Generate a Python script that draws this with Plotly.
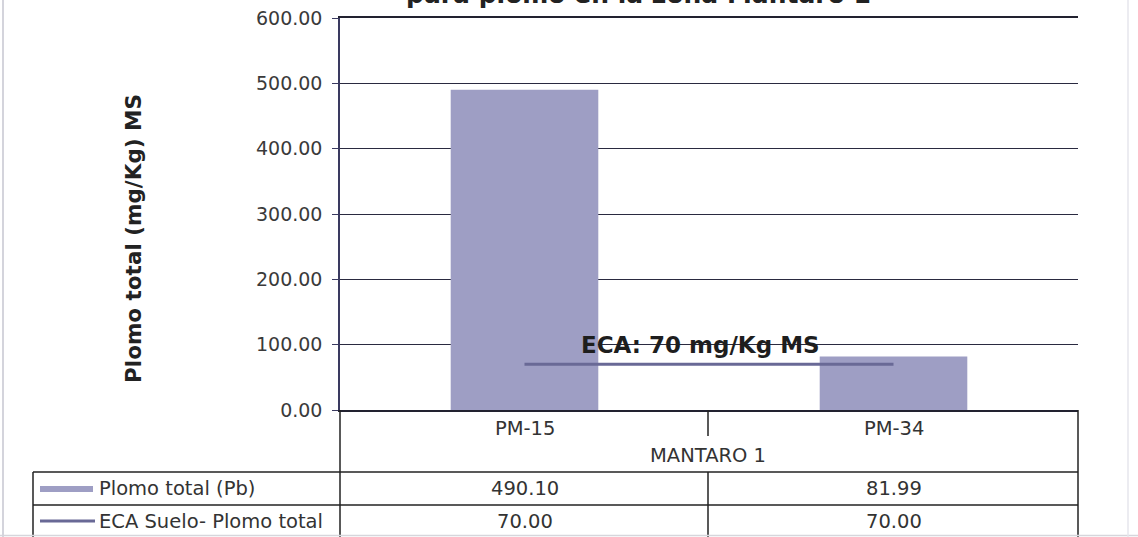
import plotly.graph_objects as go

# ---- data ----
categories = ["PM-15", "PM-34"]
group_label = "MANTARO 1"
plomo_total = [490.10, 81.99]
eca_suelo = [70.00, 70.00]
series_names = ["Plomo total (Pb)", "ECA Suelo- Plomo total"]
y_ticks = [0, 100, 200, 300, 400, 500, 600]
eca_label = "ECA: 70 mg/Kg MS"
y_title = "Plomo total (mg/Kg) MS"
title_text = "para plomo en la zona Mantaro 1"

# ---- layout geometry (pixels) ----
W, H = 1138, 537
PLOT_L, PLOT_R, PLOT_T, PLOT_B = 340, 1078, 18, 410
L, T, R, B = PLOT_L, PLOT_T, W - PLOT_R, H - PLOT_B
PW = W - L - R
PH = H - T - B


def px(x):
    return (x - L) / PW


def py(y):
    return (PLOT_B - y) / PH


FONT = "DejaVu Sans"
BAR_COLOR = "rgb(158,158,196)"
LINE_COLOR = "rgb(105,105,150)"
GRID = "#2a2a40"
TXT = "#333333"
TS = 19.5

fig = go.Figure()
fig.add_trace(go.Bar(x=categories, y=plomo_total, name=series_names[0],
                     marker=dict(color=BAR_COLOR, line=dict(width=0)),
                     width=0.4))
fig.add_trace(go.Scatter(x=categories, y=eca_suelo, name=series_names[1],
                         mode="lines", line=dict(color=LINE_COLOR, width=3)))

fig.update_layout(
    width=W, height=H,
    margin=dict(l=L, r=R, t=T, b=B, autoexpand=False),
    paper_bgcolor="white", plot_bgcolor="white",
    showlegend=False,
    font=dict(family=FONT, color=TXT),
)
fig.update_xaxes(showticklabels=False, showgrid=False, zeroline=False,
                 showline=True, mirror=True, linecolor="#222230", linewidth=1.5,
                 ticks="")
fig.update_yaxes(range=[0, 600], tickvals=y_ticks, tickformat=".2f",
                 showgrid=True, gridcolor=GRID, gridwidth=1,
                 zeroline=False, showline=True, linecolor="#3a3a60",
                 linewidth=1.5, ticks="outside", ticklen=6,
                 tickcolor="#3a3a60", ticklabelstandoff=6,
                 tickfont=dict(size=19, color="#3a3a3a", family=FONT))

ann = []
# title (mostly clipped at the top of the window)
ann.append(dict(text=title_text, xref="paper", yref="paper",
                x=px(638), y=py(10), xanchor="center", yanchor="bottom",
                showarrow=False, borderpad=0,
                font=dict(size=25, family=FONT, color="#222222", weight="bold")))
# y title
ann.append(dict(text=y_title, xref="paper", yref="paper", x=px(133), y=py(238),
                textangle=-90, showarrow=False, xanchor="center", yanchor="middle",
                font=dict(size=21.5, family=FONT, color="#222222", weight="bold")))
# ECA label
ann.append(dict(text=eca_label, xref="paper", yref="paper", x=px(700), y=py(345),
                showarrow=False, xanchor="center", yanchor="middle",
                font=dict(size=23, family=FONT, color="#1e1e1e", weight="bold")))


def cell(text, x, y, xref="paper", xanchor="center"):
    ann.append(dict(text=text, xref=xref, yref="paper", x=x, y=y,
                    xanchor=xanchor, yanchor="middle", showarrow=False,
                    font=dict(size=TS, family=FONT, color=TXT)))


for i, c in enumerate(categories):
    cell(c, c, py(428), xref="x")
    cell(f"{plomo_total[i]:.2f}", c, py(489), xref="x")
    cell(f"{eca_suelo[i]:.2f}", c, py(521), xref="x")
cell(group_label, px(708), py(455))
cell(series_names[0], px(97), py(489), xanchor="left")
cell(series_names[1], px(97), py(521), xanchor="left")
fig.update_layout(annotations=ann)

shapes = []


def hline(x0, x1, y, color="#222222", w=1.5):
    shapes.append(dict(type="line", xref="paper", yref="paper",
                       x0=px(x0), x1=px(x1), y0=py(y), y1=py(y),
                       line=dict(color=color, width=w)))


def vline(x, y0, y1, color="#222222", w=1.5):
    shapes.append(dict(type="line", xref="paper", yref="paper",
                       x0=px(x), x1=px(x), y0=py(y0), y1=py(y1),
                       line=dict(color=color, width=w)))


# table grid
vline(340, 410, 537)
vline(1078, 410, 537)
vline(708, 410, 436)
vline(708, 472, 537)
vline(33, 472, 537)
hline(33, 1078, 472)
hline(33, 1078, 505)
hline(0, 1138, 535.5, color="#d6d6dc", w=1.5)
# page borders (scan)
vline(3, 0, 537, color="#d4d4dc", w=2)
vline(1128, 0, 537, color="#e6e6ec", w=1.5)
# legend keys
shapes.append(dict(type="rect", xref="paper", yref="paper",
                   x0=px(40), x1=px(93), y0=py(486), y1=py(492),
                   fillcolor=BAR_COLOR, line=dict(width=0)))
hline(40, 95, 521, color=LINE_COLOR, w=3)
fig.update_layout(shapes=shapes)

fig.write_html("out.html",
               config={"displayModeBar": False},
               post_script="document.body.style.margin='0';document.body.style.overflow='hidden';")
